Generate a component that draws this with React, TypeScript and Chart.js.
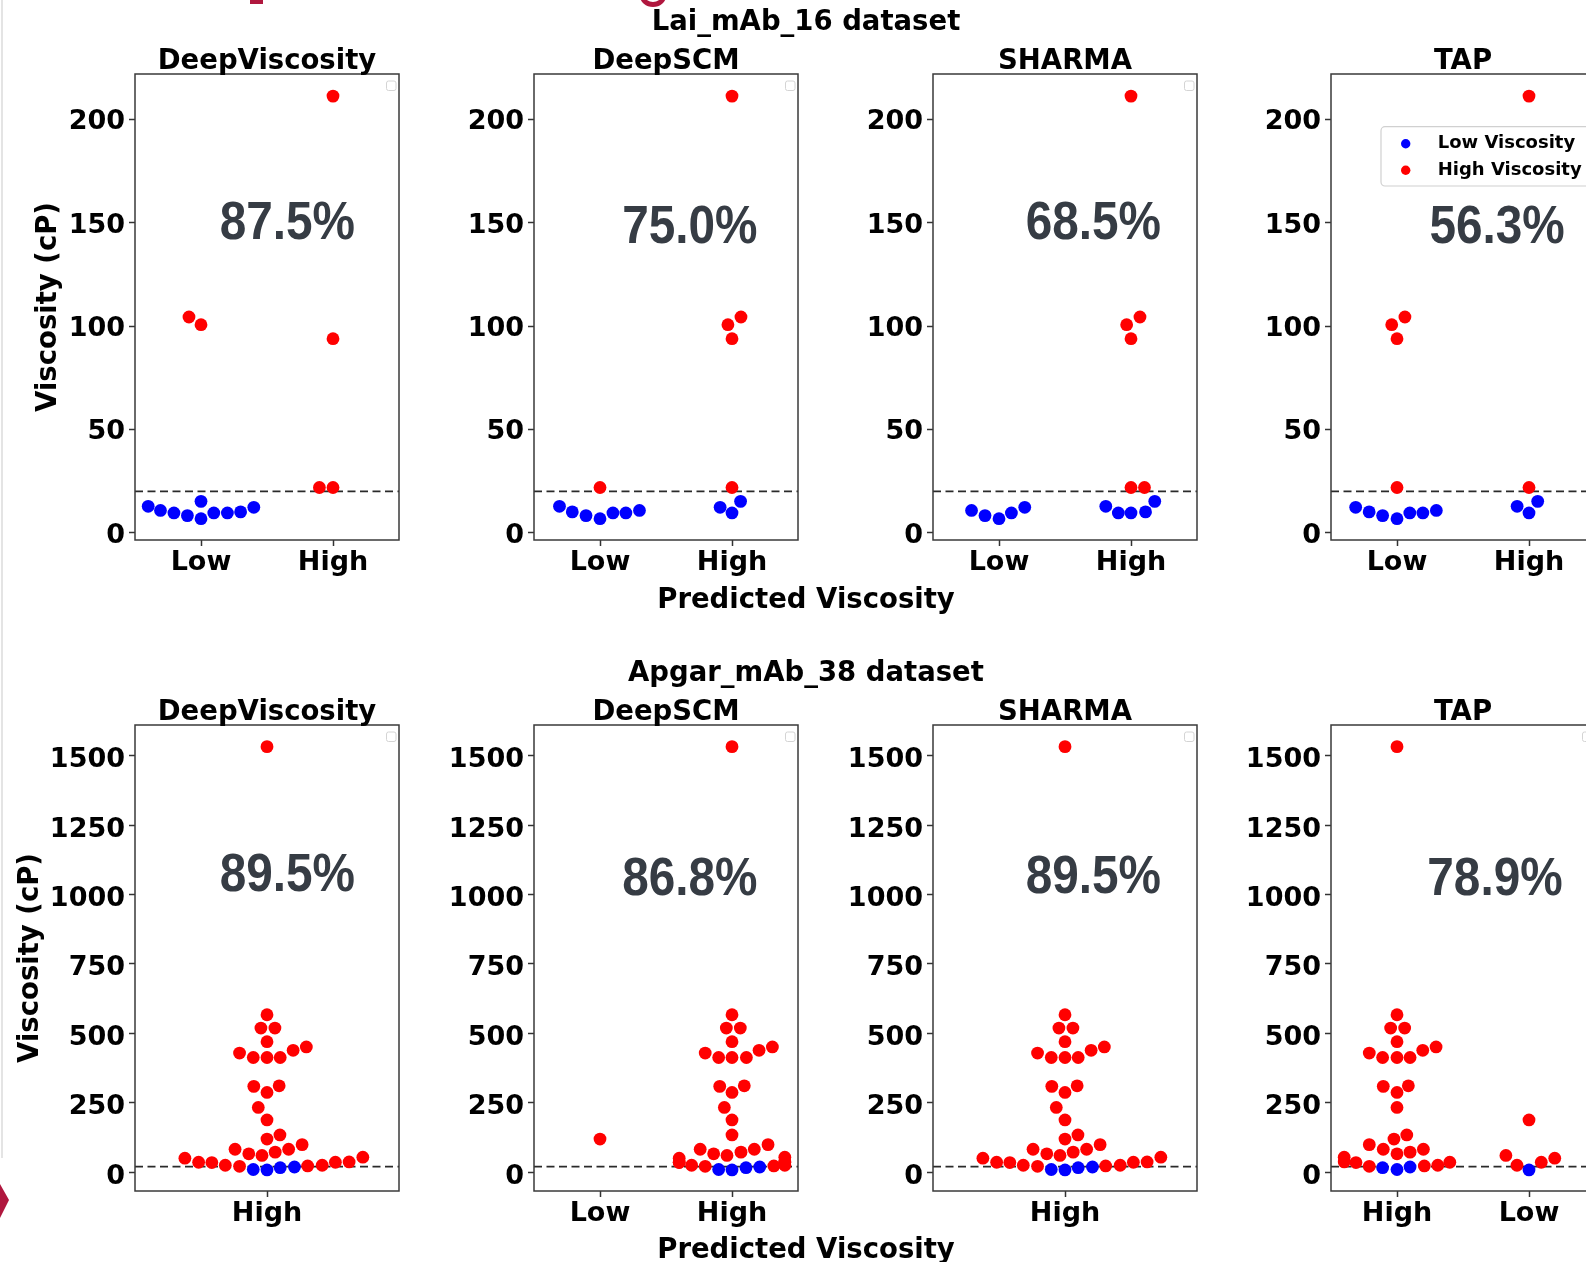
import React, { useEffect, useRef } from 'react';
import { Chart, registerables } from 'chart.js';

Chart.register(...registerables);

// ---------------------------------------------------------------------------
// Data
// ---------------------------------------------------------------------------

const MODELS = ['DeepViscosity', 'DeepSCM', 'SHARMA', 'TAP'];
const THRESHOLD = 20; // cP, boundary between low and high viscosity

// Lai_mAb_16: measured viscosity (cP) of each antibody
const laiViscosity = [6.8, 8.3, 9.6, 9.6, 9.6, 10.1, 10.8, 12.3, 12.8, 15.2, 21.9, 21.9, 93.9, 100.7, 104.4, 211.3];

// predicted class per antibody (L = Low, H = High)
const laiPredDeepViscosity = ['L', 'L', 'L', 'L', 'L', 'L', 'L', 'L', 'L', 'L', 'H', 'H', 'H', 'L', 'L', 'H'];
const laiPredDeepSCM = ['L', 'L', 'L', 'L', 'H', 'L', 'L', 'H', 'L', 'H', 'L', 'H', 'H', 'H', 'H', 'H'];
const laiPredSharma = ['L', 'L', 'L', 'H', 'H', 'H', 'L', 'L', 'H', 'H', 'H', 'H', 'H', 'H', 'H', 'H'];
const laiPredTap = ['L', 'L', 'L', 'L', 'H', 'L', 'L', 'L', 'H', 'H', 'L', 'H', 'L', 'L', 'L', 'H'];

// swarm offset of each point from its category centre (x-axis units)
const laiSwarmDeepViscosity = [0, -0.103, -0.205, 0.097, 0.2, 0.3, -0.307, 0.4, -0.4, 0, 0, -0.103, 0, 0, -0.091, 0];
const laiSwarmDeepSCM = [0, -0.106, 0.098, 0.196, 0, -0.21, 0.299, -0.09, -0.307, 0.065, 0, 0, 0, -0.031, 0.068, 0];
const laiSwarmSharma = [0, -0.106, 0.094, -0.096, 0, 0.11, -0.208, 0.195, -0.191, 0.18, 0, 0.102, 0, -0.033, 0.068, 0];
const laiSwarmTap = [0, -0.109, 0.097, 0.196, 0, -0.211, 0.298, -0.313, -0.09, 0.066, 0, 0, 0, -0.04, 0.06, 0];

const laiAccuracy = ['87.5%', '75.0%', '68.5%', '56.3%'];
const laiCategories = [['Low', 'High'], ['Low', 'High'], ['Low', 'High'], ['Low', 'High']];
const laiYTicks = [0, 50, 100, 150, 200];

// Apgar_mAb_38: measured viscosity (cP) of each antibody
const apgarViscosity = [
  1533, 567, 519, 519, 470, 429, 413, 413, 413, 439, 451, 309, 311, 287, 233, 188, 134, 119, 99,
  82.5, 82.5, 72, 66, 60, 53.7, 50.1, 36.8, 35.6, 35.6, 34.4, 24.8, 24.8, 22.4, 21.0, 18.5, 16.0, 9.5, 8.0,
];

const apgarPredDeepViscosity = [
  'H', 'H', 'H', 'H', 'H', 'H', 'H', 'H', 'H', 'H', 'H', 'H', 'H', 'H', 'H', 'H', 'H', 'H', 'H',
  'H', 'H', 'H', 'H', 'H', 'H', 'H', 'H', 'H', 'H', 'H', 'H', 'H', 'H', 'H', 'H', 'H', 'H', 'H',
];
const apgarPredDeepSCM = [
  'H', 'H', 'H', 'H', 'H', 'H', 'H', 'H', 'H', 'H', 'H', 'H', 'H', 'H', 'H', 'H', 'H', 'L', 'H',
  'H', 'H', 'H', 'H', 'H', 'H', 'H', 'H', 'H', 'H', 'H', 'H', 'H', 'H', 'H', 'H', 'H', 'H', 'H',
];
const apgarPredSharma = [
  'H', 'H', 'H', 'H', 'H', 'H', 'H', 'H', 'H', 'H', 'H', 'H', 'H', 'H', 'H', 'H', 'H', 'H', 'H',
  'H', 'H', 'H', 'H', 'H', 'H', 'H', 'H', 'H', 'H', 'H', 'H', 'H', 'H', 'H', 'H', 'H', 'H', 'H',
];
const apgarPredTap = [
  'H', 'H', 'H', 'H', 'H', 'H', 'H', 'H', 'H', 'H', 'H', 'H', 'H', 'H', 'H', 'L', 'H', 'H', 'H',
  'H', 'H', 'H', 'H', 'L', 'H', 'L', 'H', 'L', 'H', 'H', 'L', 'H', 'H', 'H', 'H', 'H', 'H', 'L',
];

const apgarSwarmDeepViscosity = [
  0, 0, -0.023, 0.03, 0, -0.104, -0.052, 0, 0.05, 0.099, 0.149, -0.05, 0.046, 0, -0.033, 0, 0.049, 0, 0.133,
  -0.121, 0.082, 0.031, -0.069, -0.019, 0.363, -0.311, 0.311, -0.259, 0.259, -0.209, -0.158, 0.209, 0.154, -0.104, 0.104, 0.05, -0.052, 0,
];
const apgarSwarmDeepSCM = [
  0, 0, -0.043, 0.063, 0, -0.203, -0.101, 0, 0.109, 0.205, 0.306, -0.093, 0.093, 0, -0.058, 0, 0, 0, 0.273,
  -0.241, 0.169, 0.068, -0.139, -0.038, 0.4, -0.4, 0.4, -0.4, 0.4, -0.4, -0.306, 0.4, 0.317, -0.203, 0.21, 0.106, -0.101, 0,
];
// SHARMA predicts every Apgar antibody as High, exactly like DeepViscosity
const apgarSwarmSharma = [
  0, 0, -0.023, 0.03, 0, -0.104, -0.052, 0, 0.05, 0.099, 0.149, -0.05, 0.046, 0, -0.033, 0, 0.049, 0, 0.133,
  -0.121, 0.082, 0.031, -0.069, -0.019, 0.363, -0.311, 0.311, -0.259, 0.259, -0.209, -0.158, 0.209, 0.154, -0.104, 0.104, 0.05, -0.052, 0,
];
const apgarSwarmTap = [
  0, 0, -0.048, 0.058, 0, -0.21, -0.109, 0, 0.099, 0.195, 0.296, -0.104, 0.086, 0, 0, 0, 0.074, -0.023, -0.21,
  -0.104, 0.2, 0.099, 0, -0.175, -0.4, 0.195, -0.4, 0.093, 0.4, -0.311, -0.091, 0.309, 0.207, -0.21, 0.099, -0.109, 0, 0,
];

const apgarAccuracy = ['89.5%', '86.8%', '89.5%', '78.9%'];
const apgarCategories = [['High'], ['Low', 'High'], ['High'], ['High', 'Low']];
const apgarYTicks = [0, 250, 500, 750, 1000, 1250, 1500];

// ---------------------------------------------------------------------------
// Layout
// ---------------------------------------------------------------------------

const COL_LEFT = [135, 534, 933, 1331];
const ROW_TOP = [74, 725];
const PANEL_W = 264;
const PANEL_H = 466;
const AXIS_W = 130; // room for y tick labels and the y-axis title
const TOP_SPACE = 40; // room for the panel title
const RIGHT_SPACE = 12;
const X_AXIS_H = 48;
const Y_LABEL_SHIFT = [3, 4.5];

const FONT = '"DejaVu Sans", sans-serif';
const BLUE = '#0000ff';
const RED = '#ff0000';

// accuracy label centre, as a fraction of the plot box
const ACC_POS = [
  [[0.577, 0.3233], [0.59, 0.3318], [0.6076, 0.3233], [0.629, 0.3318]],
  [[0.577, 0.3238], [0.59, 0.3326], [0.6076, 0.3283], [0.621, 0.3326]],
];

type PanelSpec = {
  id: string;
  row: number;
  col: number;
  title: string;
  categories: string[];
  values: number[];
  preds: string[];
  swarm: number[];
  yMin: number;
  yMax: number;
  yTicks: number[];
  accuracy: string;
  legend: 'full' | 'empty';
};

const laiPreds = [laiPredDeepViscosity, laiPredDeepSCM, laiPredSharma, laiPredTap];
const laiSwarm = [laiSwarmDeepViscosity, laiSwarmDeepSCM, laiSwarmSharma, laiSwarmTap];
const apgarPreds = [apgarPredDeepViscosity, apgarPredDeepSCM, apgarPredSharma, apgarPredTap];
const apgarSwarm = [apgarSwarmDeepViscosity, apgarSwarmDeepSCM, apgarSwarmSharma, apgarSwarmTap];

const PANELS: PanelSpec[] = [
  ...MODELS.map((m, i) => ({
    id: `lai-${m}`,
    row: 0,
    col: i,
    title: m,
    categories: laiCategories[i],
    values: laiViscosity,
    preds: laiPreds[i],
    swarm: laiSwarm[i],
    yMin: -3.5,
    yMax: 222,
    yTicks: laiYTicks,
    accuracy: laiAccuracy[i],
    legend: (i === 3 ? 'full' : 'empty') as 'full' | 'empty',
  })),
  ...MODELS.map((m, i) => ({
    id: `apgar-${m}`,
    row: 1,
    col: i,
    title: m,
    categories: apgarCategories[i],
    values: apgarViscosity,
    preds: apgarPreds[i],
    swarm: apgarSwarm[i],
    yMin: -68,
    yMax: 1611,
    yTicks: apgarYTicks,
    accuracy: apgarAccuracy[i],
    legend: 'empty' as 'full' | 'empty',
  })),
];

// ---------------------------------------------------------------------------
// Drawing helpers
// ---------------------------------------------------------------------------

const panelDecor = {
  id: 'panelDecor',
  beforeDatasetsDraw(chart: any) {
    const { ctx, chartArea: a, scales } = chart;
    const y = scales.y.getPixelForValue(THRESHOLD);
    ctx.save();
    ctx.strokeStyle = '#2a2a2a';
    ctx.lineWidth = 1.8;
    ctx.setLineDash([8, 4.5]);
    ctx.beginPath();
    ctx.moveTo(a.left, y);
    ctx.lineTo(a.right, y);
    ctx.stroke();
    ctx.restore();
  },
  afterDatasetsDraw(chart: any, _args: any, opts: any) {
    const { ctx, chartArea: a } = chart;
    ctx.save();

    // plot frame
    ctx.strokeStyle = '#3a3a3a';
    ctx.lineWidth = 1.5;
    ctx.strokeRect(a.left, a.top, a.right - a.left, a.bottom - a.top);

    // panel title
    ctx.fillStyle = '#000';
    ctx.font = `bold 27.5px ${FONT}`;
    ctx.textAlign = 'center';
    ctx.textBaseline = 'alphabetic';
    ctx.fillText(opts.title, (a.left + a.right) / 2, a.top - 5);

    // accuracy label
    const [fx, fy] = opts.accPos;
    ctx.save();
    ctx.translate(a.left + fx * (a.right - a.left), a.top + fy * (a.bottom - a.top));
    ctx.scale(0.9, 1);
    ctx.fillStyle = '#363c44';
    ctx.font = 'bold 53px "Liberation Sans", Arial, sans-serif';
    ctx.textAlign = 'center';
    ctx.textBaseline = 'middle';
    ctx.fillText(opts.accuracy, 0, 0);
    ctx.restore();

    if (opts.legend === 'full') {
      const x0 = a.left + 50;
      const y0 = a.top + 52.7;
      ctx.beginPath();
      ctx.roundRect(x0, y0, 212, 59.3, 4);
      ctx.fillStyle = 'rgba(255,255,255,0.85)';
      ctx.fill();
      ctx.strokeStyle = '#d0d0d0';
      ctx.lineWidth = 1.2;
      ctx.stroke();
      const entries: [string, string, number][] = [
        ['Low Viscosity', BLUE, 17],
        ['High Viscosity', RED, 43.6],
      ];
      ctx.font = `bold 18px ${FONT}`;
      ctx.textAlign = 'left';
      ctx.textBaseline = 'alphabetic';
      for (const [label, color, dy] of entries) {
        ctx.beginPath();
        ctx.arc(x0 + 24.7, y0 + dy, 4.7, 0, Math.PI * 2);
        ctx.fillStyle = color;
        ctx.fill();
        ctx.fillStyle = '#000';
        ctx.fillText(label, x0 + 56.7, y0 + dy + 4.6);
      }
    } else {
      ctx.beginPath();
      ctx.roundRect(a.right - 12.5, a.top + 7, 9.5, 9.5, 2);
      ctx.fillStyle = '#fff';
      ctx.fill();
      ctx.strokeStyle = '#d4d4d4';
      ctx.lineWidth = 1;
      ctx.stroke();
    }
    ctx.restore();
  },
};

function SwarmPanel({ spec }: { spec: PanelSpec }) {
  const ref = useRef<HTMLCanvasElement>(null);
  const width = AXIS_W + PANEL_W + RIGHT_SPACE;
  const height = TOP_SPACE + PANEL_H + X_AXIS_H;

  useEffect(() => {
    const cats = spec.categories;
    const lowPts: { x: number; y: number }[] = [];
    const highPts: { x: number; y: number }[] = [];
    spec.values.forEach((v, i) => {
      const cat = cats.indexOf(spec.preds[i] === 'L' ? 'Low' : 'High');
      const pt = { x: cat + spec.swarm[i], y: v };
      (v < THRESHOLD ? lowPts : highPts).push(pt);
    });

    const tickFont = { family: FONT, size: 27, weight: 'bold' as const };
    const grid = {
      display: true,
      drawOnChartArea: false,
      drawTicks: true,
      tickLength: 6,
      tickWidth: 1.5,
      tickColor: '#333',
    };

    const chart = new Chart(ref.current as HTMLCanvasElement, {
      type: 'scatter',
      data: {
        datasets: [
          { label: 'Low Viscosity', data: lowPts, backgroundColor: BLUE, borderWidth: 0, pointRadius: 6.4, pointHoverRadius: 6.4 },
          { label: 'High Viscosity', data: highPts, backgroundColor: RED, borderWidth: 0, pointRadius: 6.4, pointHoverRadius: 6.4 },
        ],
      },
      options: {
        responsive: false,
        animation: false,
        events: [],
        layout: { padding: { left: 0, top: TOP_SPACE, right: RIGHT_SPACE, bottom: 0 } },
        scales: {
          x: {
            type: 'linear',
            min: -0.5,
            max: cats.length - 0.5,
            afterBuildTicks: (s: any) => {
              s.ticks = cats.map((_, i) => ({ value: i }));
            },
            afterFit: (s: any) => {
              s.height = X_AXIS_H;
            },
            ticks: {
              callback: (v: any) => cats[v as number] ?? '',
              font: tickFont,
              color: '#000',
              padding: 1,
              maxRotation: 0,
              autoSkip: false,
            },
            grid,
            border: { display: false },
          },
          y: {
            type: 'linear',
            min: spec.yMin,
            max: spec.yMax,
            afterBuildTicks: (s: any) => {
              s.ticks = spec.yTicks.map((t) => ({ value: t }));
            },
            afterFit: (s: any) => {
              s.width = AXIS_W;
            },
            ticks: {
              callback: (v: any) => String(v),
              font: tickFont,
              color: '#000',
              padding: 4,
              labelOffset: Y_LABEL_SHIFT[spec.row],
            },
            grid,
            border: { display: false },
            title: {
              display: spec.col === 0,
              text: 'Viscosity (cP)',
              color: '#000',
              font: { family: FONT, size: 27.5, weight: 'bold' },
              padding: { top: spec.row === 0 ? 27 : 9.8, bottom: 0 },
            },
          },
        },
        plugins: {
          legend: { display: false },
          tooltip: { enabled: false },
          panelDecor: {
            title: spec.title,
            accuracy: spec.accuracy,
            accPos: ACC_POS[spec.row][spec.col],
            legend: spec.legend,
          },
        } as any,
      },
      plugins: [panelDecor],
    });
    return () => chart.destroy();
  }, [spec]);

  return (
    <canvas
      ref={ref}
      width={width}
      height={height}
      style={{
        position: 'absolute',
        left: COL_LEFT[spec.col] - AXIS_W,
        top: ROW_TOP[spec.row] - TOP_SPACE,
        width,
        height,
      }}
    />
  );
}

function FigText({ x, y, children }: { x: number; y: number; children: React.ReactNode }) {
  return (
    <div
      style={{
        position: 'absolute',
        left: x,
        top: y,
        transform: 'translate(-50%, -50%)',
        font: `bold 27.5px ${FONT}`,
        lineHeight: 1,
        whiteSpace: 'nowrap',
        color: '#000',
      }}
    >
      {children}
    </div>
  );
}

const CRIMSON = '#b0173e';

export default function App() {
  return (
    <div
      style={{
        position: 'fixed',
        left: 0,
        top: 0,
        width: 1586,
        height: 1262,
        overflow: 'hidden',
        background: '#fff',
      }}
    >
      {/* slide edge and fragments of the slide heading */}
      <div style={{ position: 'absolute', left: 1, top: 0, width: 2, height: 1158, background: '#e4e4e4' }} />
      <div style={{ position: 'absolute', left: 250, top: 0, width: 13, height: 4, background: CRIMSON }} />
      <div
        style={{
          position: 'absolute',
          left: 640,
          top: -15,
          width: 26,
          height: 22,
          borderRadius: '50%',
          border: `5px solid ${CRIMSON}`,
          boxSizing: 'border-box',
        }}
      />
      <svg style={{ position: 'absolute', left: 0, top: 1180 }} width={14} height={44}>
        <polygon points="0,4 9,20 0,38" fill={CRIMSON} />
      </svg>

      {PANELS.map((p) => (
        <SwarmPanel key={p.id} spec={p} />
      ))}

      <FigText x={806} y={21.2}>Lai_mAb_16 dataset</FigText>
      <FigText x={806} y={598.8}>Predicted Viscosity</FigText>
      <FigText x={806} y={671.6}>Apgar_mAb_38 dataset</FigText>
      <FigText x={806} y={1249.2}>Predicted Viscosity</FigText>
    </div>
  );
}
